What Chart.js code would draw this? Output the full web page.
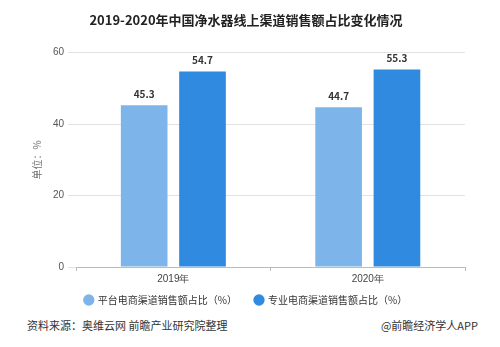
<!DOCTYPE html>
<html>
<head>
<meta charset="utf-8">
<script src="https://cdn.jsdelivr.net/npm/chart.js@4/dist/chart.umd.min.js"></script>
<style>
  body { margin: 0; background: #fff; font-family: "Noto Sans CJK SC", sans-serif; }
  #wrap { position: relative; width: 500px; height: 347px; }
  #box { position: absolute; left: 0; top: 0; width: 500px; height: 315px; }
  .note { position: absolute; top: 317px; font-size: 11px; color: #333; }
</style>
</head>
<body>
<div id="wrap">
  <div id="box"><canvas id="c"></canvas></div>
  <div class="note" style="left:27px">资料来源：奥维云网 前瞻产业研究院整理</div>
  <div class="note" style="right:22px">@前瞻经济学人APP</div>
</div>
<script>
const years = ['2019年', '2020年'];
const platformShare = [45.3, 44.7];
const specialistShare = [54.7, 55.3];
const yTicks = [0, 20, 40, 60];

// value labels above each bar
const barLabels = {
  id: 'barLabels',
  afterDatasetsDraw(chart) {
    const ctx = chart.ctx;
    ctx.save();
    ctx.font = 'bold 10px "Noto Sans CJK SC", sans-serif';
    ctx.fillStyle = '#333';
    ctx.textAlign = 'center';
    ctx.textBaseline = 'bottom';
    chart.data.datasets.forEach((ds, i) => {
      chart.getDatasetMeta(i).data.forEach((bar, j) => {
        ctx.fillText(ds.data[j].toFixed(1), bar.x, bar.y - 6);
      });
    });
    ctx.restore();
  }
};

new Chart(document.getElementById('c'), {
  type: 'bar',
  data: {
    labels: years,
    datasets: [
      { label: '平台电商渠道销售额占比（%）', data: platformShare, backgroundColor: '#7db5ea' },
      { label: '专业电商渠道销售额占比（%）', data: specialistShare, backgroundColor: '#2f8ae0' }
    ]
  },
  options: {
    responsive: true,
    maintainAspectRatio: false,
    animation: false,
    categoryPercentage: 0.6,
    barPercentage: 0.8,
    layout: { padding: { left: 27, right: 35, top: 0, bottom: 0 } },
    plugins: {
      title: {
        display: true,
        text: '2019-2020年中国净水器线上渠道销售额占比变化情况',
        color: '#222',
        font: { size: 13, weight: 'bold', family: '"Noto Sans CJK SC", sans-serif' },
        padding: { top: 12, bottom: 25 }
      },
      legend: {
        position: 'bottom',
        labels: {
          usePointStyle: true,
          pointStyle: 'circle',
          boxWidth: 8,
          boxHeight: 8,
          padding: 8,
          color: '#333',
          font: { size: 10, family: '"Noto Sans CJK SC", sans-serif' },
          generateLabels(chart) {
            const items = Chart.defaults.plugins.legend.labels.generateLabels(chart);
            // widen the gap between the two legend entries
            items[0].text = items[0].text + '\u2002\u2002';
            return items;
          }
        }
      },
      tooltip: { enabled: false }
    },
    scales: {
      x: {
        grid: { display: true, drawOnChartArea: false, tickLength: 4, color: '#bbb' },
        border: { color: '#bbb' },
        ticks: { color: '#444', font: { size: 10 }, padding: 2 }
      },
      y: {
        min: 0,
        max: 60,
        afterBuildTicks(axis) { axis.ticks = yTicks.map(v => ({ value: v })); },
        grid: { color: '#e2e2e2', drawTicks: true, tickLength: 8 },
        border: { display: false },
        ticks: { color: '#555', font: { size: 10 }, padding: 4 },
        title: {
          display: true,
          text: '单位：%',
          color: '#777',
          font: { size: 10, family: '"Noto Sans CJK SC", sans-serif' },
          padding: { bottom: 6 }
        }
      }
    }
  },
  plugins: [barLabels]
});
</script>
</body>
</html>
